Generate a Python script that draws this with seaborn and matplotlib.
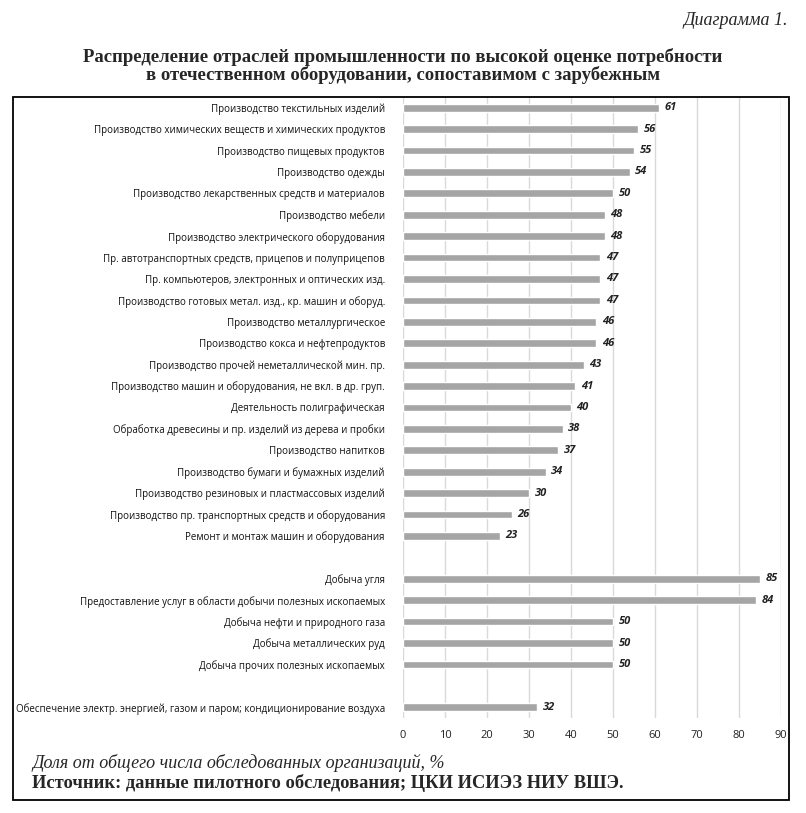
import numpy as np
import pandas as pd
import matplotlib.pyplot as plt
import matplotlib.patches as patches
import seaborn as sns

industries = [
    'Производство текстильных изделий',
    'Производство химических веществ и химических продуктов',
    'Производство пищевых продуктов',
    'Производство одежды',
    'Производство лекарственных средств и материалов',
    'Производство мебели',
    'Производство электрического оборудования',
    'Пр. автотранспортных средств, прицепов и полуприцепов',
    'Пр. компьютеров, электронных и оптических изд.',
    'Производство готовых метал. изд., кр. машин и оборуд.',
    'Производство металлургическое',
    'Производство кокса и нефтепродуктов',
    'Производство прочей неметаллической мин. пр.',
    'Производство машин и оборудования, не вкл. в др. груп.',
    'Деятельность полиграфическая',
    'Обработка древесины и пр. изделий из дерева и пробки',
    'Производство напитков',
    'Производство бумаги и бумажных изделий',
    'Производство резиновых и пластмассовых изделий',
    'Производство пр. транспортных средств и оборудования',
    'Ремонт и монтаж машин и оборудования',
]
industry_vals = [61, 56, 55, 54, 50, 48, 48, 47, 47, 47, 46, 46, 43, 41, 40, 38, 37, 34, 30, 26, 23]

mining = [
    'Добыча угля',
    'Предоставление услуг в области добычи полезных ископаемых',
    'Добыча нефти и природного газа',
    'Добыча металлических руд',
    'Добыча прочих полезных ископаемых',
]
mining_vals = [85, 84, 50, 50, 50]

energy = ['Обеспечение электр. энергией, газом и паром; кондиционирование воздуха']
energy_vals = [32]

# blank rows separate the groups
order = industries + [' '] + mining + ['  '] + energy
df = pd.DataFrame({
    'name': industries + mining + energy,
    'value': industry_vals + mining_vals + energy_vals,
})

sns.set_style('white')
plt.rcParams['font.family'] = ['Open Sans', 'DejaVu Sans']

fig = plt.figure(figsize=(8.06, 8.13), dpi=100)
ax = fig.add_axes([0.5, 0.1169, 0.469, 0.7638])

sns.barplot(data=df, x='value', y='name', order=order, orient='h',
            color='#a5a5a5', width=0.36, saturation=1, ax=ax)

for i, name in enumerate(order):
    row = df[df['name'] == name]
    if len(row):
        v = row['value'].iloc[0]
        ax.text(v + 1.3, i, str(v), va='center', ha='left', fontsize=8,
                fontweight='bold', fontstyle='italic', color='#222222')

ax.set_xlim(0, 90)
ax.set_ylim(len(order) - 0.5, -0.5)
ax.set_xticks(range(0, 91, 10))
ax.xaxis.grid(True, color='#d9d9d9', linewidth=1)
ax.set_axisbelow(True)
for s in ax.spines.values():
    s.set_visible(False)
ax.set_xlabel('')
ax.set_ylabel('')
ax.tick_params(axis='y', length=0, pad=13, labelsize=7, labelcolor='#111111')
ax.tick_params(axis='x', length=0, pad=9, labelsize=8, labelcolor='#222222')

fig.text(0.977, 0.975, 'Диаграмма 1.', ha='right', va='center', fontsize=13,
         fontstyle='italic', family='Liberation Serif')
fig.text(0.5, 0.919, 'Распределение отраслей промышленности по высокой оценке потребности\n'
         'в отечественном оборудовании, сопоставимом с зарубежным',
         ha='center', va='center', fontsize=13.5, fontweight='bold',
         family='Liberation Serif', linespacing=1.0)
fig.text(0.04, 0.062, 'Доля от общего числа обследованных организаций, %', ha='left',
         va='center', fontsize=13, fontstyle='italic', family='Liberation Serif')
fig.text(0.04, 0.037, 'Источник: данные пилотного обследования; ЦКИ ИСИЭЗ НИУ ВШЭ.',
         ha='left', va='center', fontsize=13.3, fontweight='bold', family='Liberation Serif')

fig.add_artist(patches.Rectangle((13 / 806, 1 - 800 / 813), 776 / 806, 703 / 813,
                                 transform=fig.transFigure, fill=False,
                                 edgecolor='black', linewidth=1.3))

fig.savefig('out.png', dpi=100)
